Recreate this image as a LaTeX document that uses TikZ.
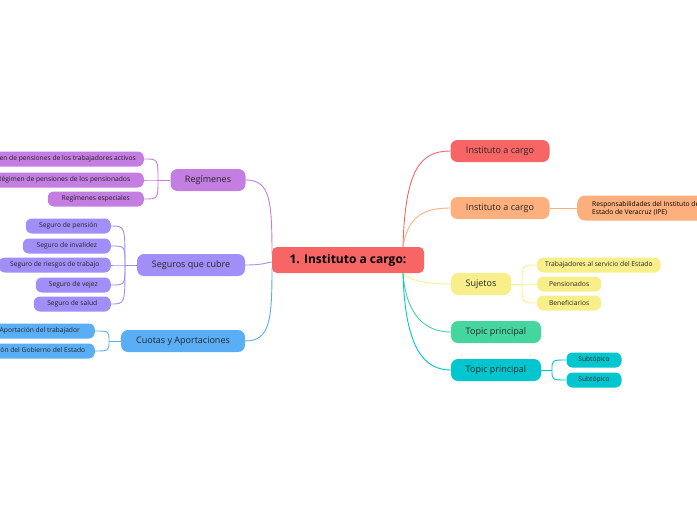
\documentclass[tikz,border=0pt]{standalone}
\usepackage{fontspec}
\setmainfont{Open Sans}
\begin{document}
\begin{tikzpicture}[x=1pt,y=-1pt,
 topic/.style={rounded corners=7pt,fill=#1,minimum height=22pt,inner xsep=8pt,font=\fontsize{9}{10}\selectfont,text=black!85},
 sub/.style={rounded corners=6pt,fill=#1,minimum height=15pt,inner xsep=8pt,font=\fontsize{6.7}{7.5}\selectfont,text=black!85},
 ln/.style={draw=#1,line width=0.9pt}]
\useasboundingbox (0,0) rectangle (697,520);
\clip (0,0) rectangle (697,520);
\definecolor{cred}{HTML}{F86565}\definecolor{cor}{HTML}{FDB07E}\definecolor{cyel}{HTML}{F8EF8A}
\definecolor{cgrn}{HTML}{45D6A0}\definecolor{ccy}{HTML}{00C7CF}\definecolor{cpur}{HTML}{C47DE0}
\definecolor{cvio}{HTML}{A28EF8}\definecolor{cblu}{HTML}{5AAEF5}
% central
\node[rounded corners=5pt,fill=cred,minimum width=152pt,minimum height=26pt,font=\fontsize{12}{13}\selectfont\bfseries] (c) at (348,260) {1. Instituto a cargo:};
% right topics
\node[topic=cred,minimum width=99pt] (r1) at (500,151) {Instituto a cargo};
\node[topic=cor,minimum width=99pt] (r2) at (500,208) {Instituto a cargo};
\node[topic=cyel,minimum width=60pt] (r3) at (481,284) {Sujetos};
\node[topic=cgrn,minimum width=90pt] (r4) at (496,332) {Topic principal};
\node[topic=ccy,minimum width=90pt] (r5) at (496,370) {Topic principal};
\node[rounded corners=8pt,fill=cor,minimum height=25pt,anchor=west,align=left,inner xsep=15pt,font=\fontsize{6.7}{8}\selectfont] (r2a) at (577,208) {Responsabilidades del Instituto de Pensiones del\\Estado de Veracruz (IPE)};
\node[sub=cyel,anchor=west] (s1) at (537,265) {Trabajadores al servicio del Estado};
\node[sub=cyel,anchor=west,minimum width=64pt,align=left] (s2) at (537,284) {Pensionados\hfill};
\node[sub=cyel,anchor=west,minimum width=64pt] (s3) at (537,303) {Beneficiarios\hfill};
\node[sub=ccy,minimum width=55pt] (t1) at (594,360) {Subtópico};
\node[sub=ccy,minimum width=55pt] (t2) at (594,380) {Subtópico};
% left topics
\node[topic=cpur,minimum width=75pt] (l1) at (208,180) {Regímenes};
\node[topic=cvio,minimum width=108pt] (l2) at (191,265) {Seguros que cubre};
\node[topic=cblu,minimum width=124pt] (l3) at (183,341) {Cuotas y Aportaciones};
\node[sub=cpur,anchor=east,minimum width=160pt] (a1) at (144,159) {\hfill Régimen de pensiones de los trabajadores activos};
\node[sub=cpur,anchor=east,minimum width=160pt] (a2) at (144,180) {\hfill Régimen de pensiones de los pensionados};
\node[sub=cpur,anchor=east,minimum width=96pt] (a3) at (144,199) {\hfill Regímenes especiales};
\node[sub=cvio,anchor=east,minimum width=85pt] (b1) at (111,226) {\hfill Seguro de pensión};
\node[sub=cvio,anchor=east,minimum width=88pt] (b2) at (111,246) {\hfill Seguro de invalidez};
\node[sub=cvio,anchor=east,minimum width=112pt] (b3) at (111,265) {\hfill Seguro de riesgos de trabajo};
\node[sub=cvio,anchor=east,minimum width=75pt] (b4) at (111,285) {\hfill Seguro de vejez};
\node[sub=cvio,anchor=east,minimum width=77pt] (b5) at (111,304) {\hfill Seguro de salud};
\node[sub=cblu,anchor=east,minimum width=110pt] (d1) at (95,331) {\hfill Aportación del trabajador};
\node[sub=cblu,anchor=east,minimum width=130pt] (d2) at (95,351) {\hfill Aportación del Gobierno del Estado};
% connectors
\draw[ln=cred] (403,247) .. controls (405,170) and (420,151) .. (r1.west);
\draw[ln=cor] (403,247) .. controls (408,215) and (425,208) .. (r2.west);
\draw[ln=cyel] (403,273) .. controls (408,280) and (425,284) .. (r3.west);
\draw[ln=cgrn] (403,273) .. controls (406,315) and (425,332) .. (r4.west);
\draw[ln=ccy] (403,273) .. controls (405,350) and (425,370) .. (r5.west);
\draw[ln=cpur] (l1.east) .. controls (270,180) and (272,200) .. (272,255);
\draw[ln=cvio] (l2.east) .. controls (265,265) and (268,262) .. (272,262);
\draw[ln=cblu] (l3.east) .. controls (270,341) and (272,320) .. (272,268);
\draw[ln=cor] (r2.east) -- (r2a.west);
\draw[ln=cyel] (r3.east) -- (522,284);
\foreach \n in {s1,s2,s3}{\draw[ln=cyel] (522,284) .. controls (522,284|-\n.west) .. (\n.west);}
\draw[ln=ccy] (r5.east) -- (552,370);
\foreach \n in {t1,t2}{\draw[ln=ccy] (552,370) .. controls (552,370|-\n.west) .. (\n.west);}
\draw[ln=cpur] (l1.west) -- (158,180);
\foreach \n in {a1,a2,a3}{\draw[ln=cpur] (158,180) .. controls (158,180|-\n.east) .. (\n.east);}
\draw[ln=cvio] (l2.west) -- (125,265);
\foreach \n in {b1,b2,b3,b4,b5}{\draw[ln=cvio] (125,265) .. controls (125,265|-\n.east) .. (\n.east);}
\draw[ln=cblu] (l3.west) -- (109,341);
\foreach \n in {d1,d2}{\draw[ln=cblu] (109,341) .. controls (109,341|-\n.east) .. (\n.east);}
\end{tikzpicture}
\end{document}
